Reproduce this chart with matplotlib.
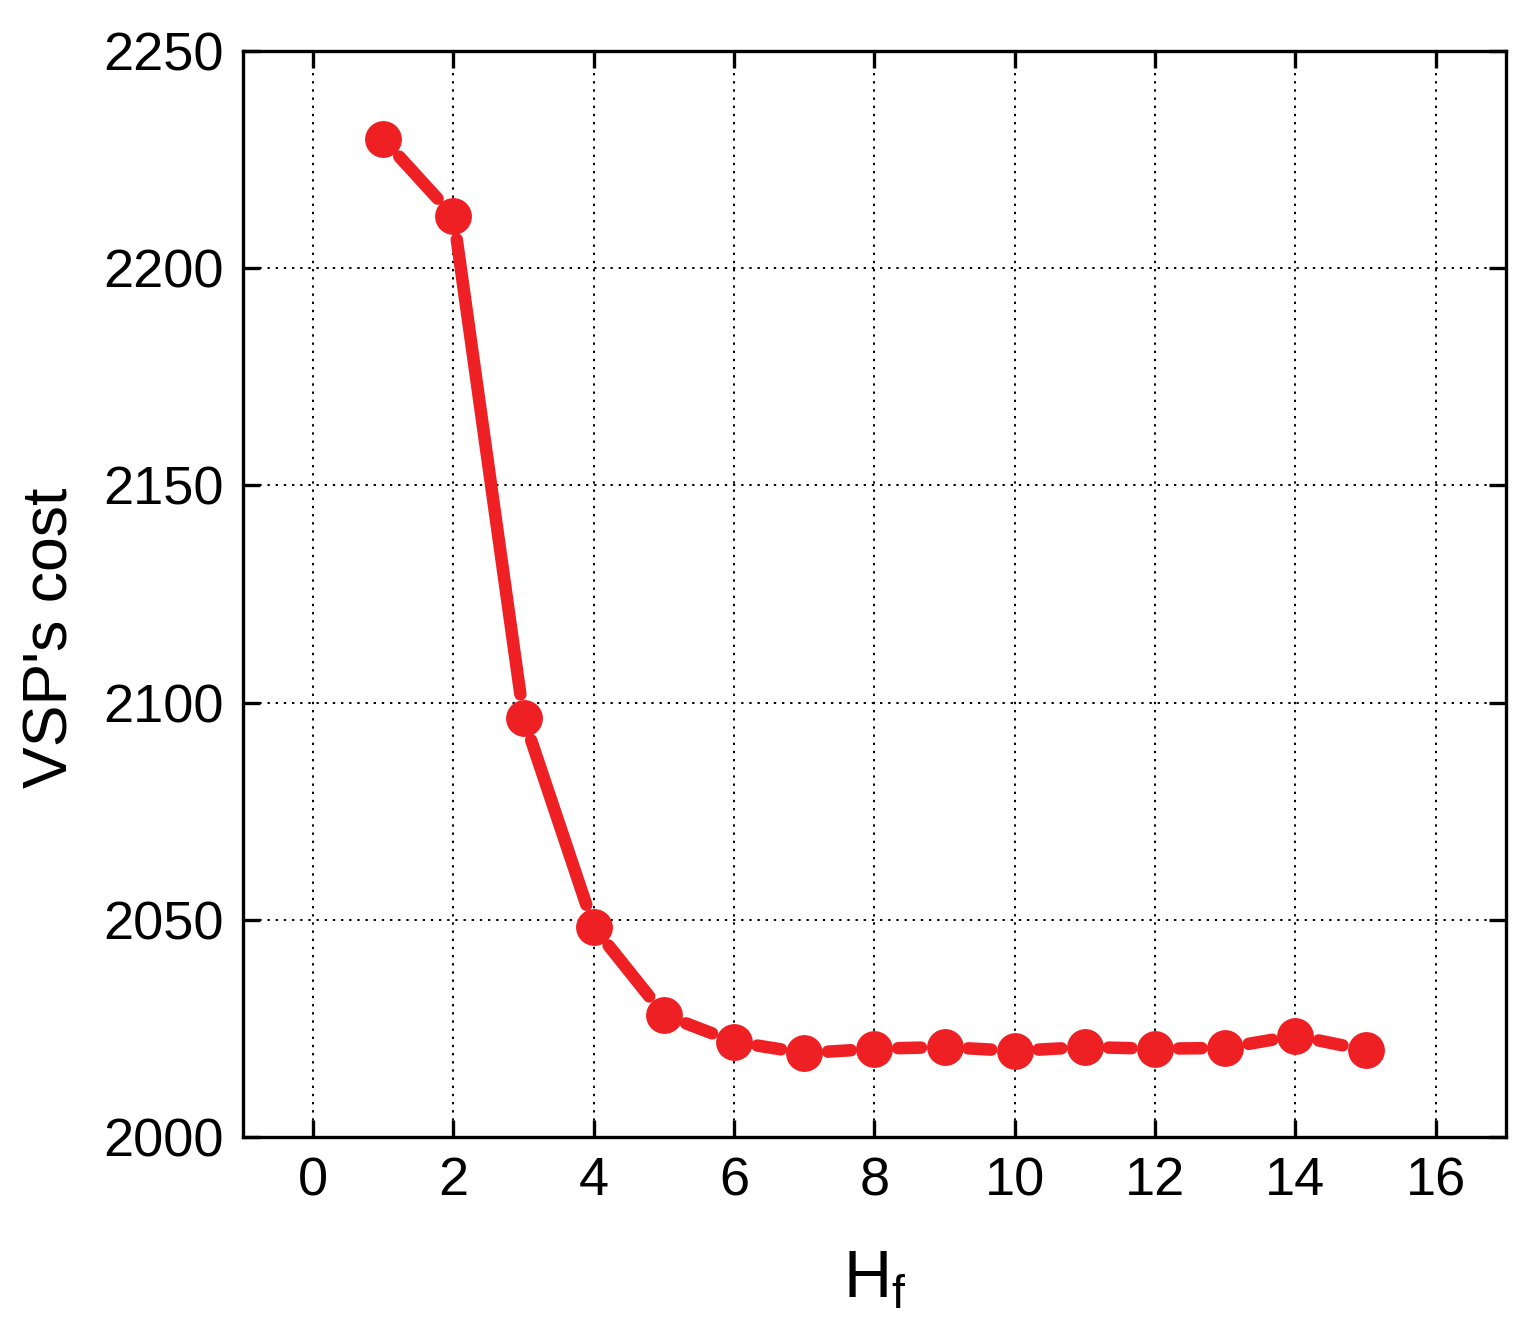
import matplotlib
matplotlib.use("Agg")
import matplotlib.pyplot as plt

plt.rcParams['font.family'] = ['Liberation Sans', 'DejaVu Sans']

hf = [1, 2, 3, 4, 5, 6, 7, 8, 9, 10, 11, 12, 13, 14, 15]
cost = [2229.7, 2212.0, 2096.5, 2048.3, 2028.1, 2021.9, 2019.3, 2020.3,
        2020.7, 2019.8, 2020.7, 2020.3, 2020.5, 2023.3, 2020.0]
xticks = [0, 2, 4, 6, 8, 10, 12, 14, 16]
yticks = [2000, 2050, 2100, 2150, 2200, 2250]

red = '#ee2024'
fig = plt.figure(figsize=(15.35, 13.42), dpi=100)
ax = fig.add_axes([0.1583, 0.1528, 0.8228, 0.8092])
ax.set_xlim(-1, 17)
ax.set_ylim(2000, 2250)

for i in range(len(hf) - 1):
    ax.annotate('', xy=(hf[i + 1], cost[i + 1]), xytext=(hf[i], cost[i]),
                arrowprops=dict(arrowstyle='-', color=red, lw=9,
                                shrinkA=17, shrinkB=17, capstyle='round'),
                zorder=3)
ax.plot(hf, cost, linestyle='none', marker='o', markersize=25.5,
        color=red, zorder=4)

ax.set_xticks(xticks)
ax.set_yticks(yticks)
ax.grid(True, color='black', linestyle=(0, (1.2, 3.0)), linewidth=1.4)
ax.tick_params(direction='in', length=12, width=2.4, labelsize=39,
               top=True, right=True, pad=14)
for s in ax.spines.values():
    s.set_linewidth(2.4)
ax.set_xlabel(r'H$_\mathregular{f}$', fontsize=48, labelpad=31)
ax.set_ylabel("VSP's cost", fontsize=45)
ax.yaxis.set_label_coords(-0.129, 0.4595)
fig.savefig('out.png', dpi=100)
